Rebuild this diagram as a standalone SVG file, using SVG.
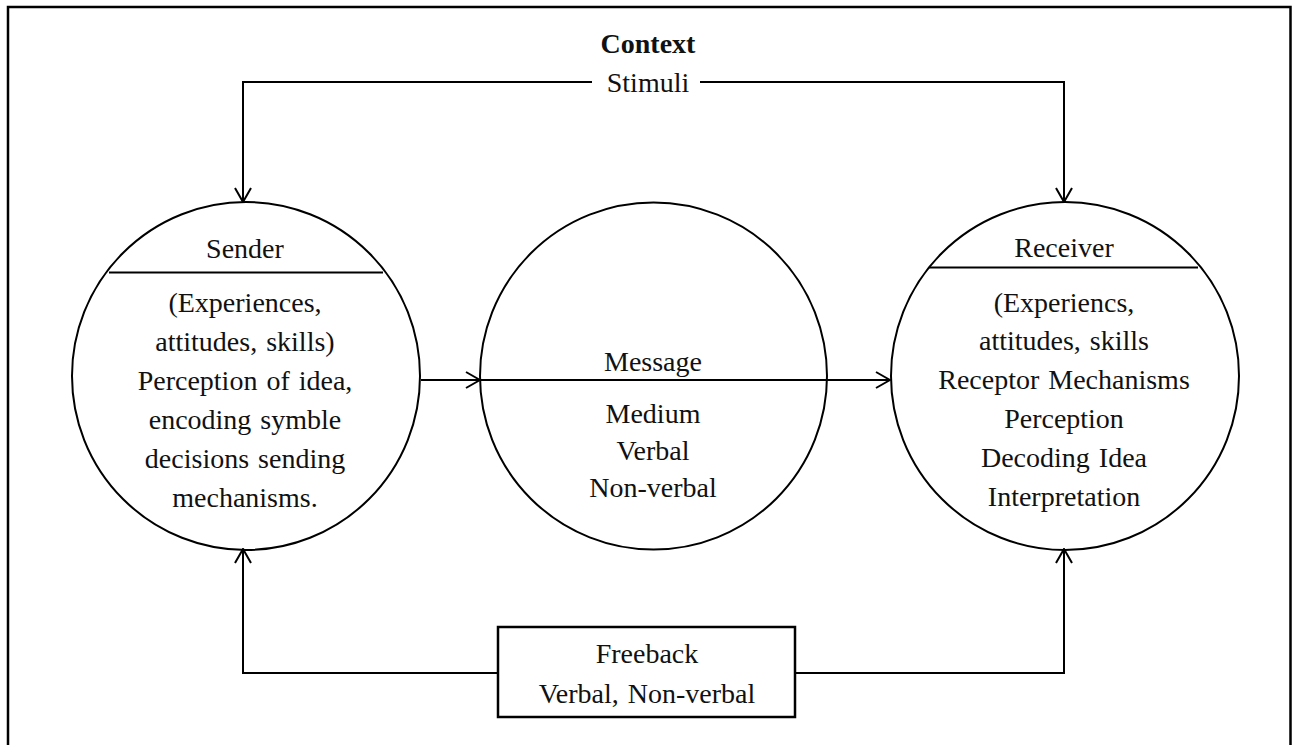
<svg xmlns="http://www.w3.org/2000/svg" width="1292" height="745" viewBox="0 0 1292 745">
<defs>
<marker id="arr" viewBox="0 0 16 18" refX="15" refY="9" markerWidth="16" markerHeight="18" markerUnits="userSpaceOnUse" orient="auto">
<path d="M1,1 L15,9 L1,17" fill="none" stroke="#000" stroke-width="2"/>
</marker>
<style>
.ln{fill:none;stroke:#000;stroke-width:2}
.t{font-family:"Liberation Serif","Times New Roman",serif;font-size:28px;fill:#111;text-anchor:middle;word-spacing:2px}
.b{font-weight:bold}
</style>
</defs>
<rect x="0" y="0" width="1292" height="745" fill="#fff"/>
<rect x="8" y="7" width="1282.5" height="760" fill="none" stroke="#000" stroke-width="2.5"/>
<text class="t b" x="648" y="53">Context</text>
<g id="connectors">
<polyline class="ln" points="592,82 243,82 243,202" marker-end="url(#arr)"/>
<polyline class="ln" points="700,82 1064,82 1064,202" marker-end="url(#arr)"/>
<line class="ln" x1="421" y1="380" x2="480" y2="380" marker-end="url(#arr)"/>
<line class="ln" x1="480" y1="380" x2="890" y2="380" marker-end="url(#arr)"/>
<polyline class="ln" points="498,673 243,673 243,549" marker-end="url(#arr)"/>
<polyline class="ln" points="795,673 1064,673 1064,549" marker-end="url(#arr)"/>
</g>
<g id="stimuli"><text class="t" x="648" y="92">Stimuli</text></g>
<g id="sender">
<circle class="ln" cx="246" cy="376" r="174"/>
<line class="ln" x1="109" y1="272.5" x2="383" y2="272.5"/>
<text class="t" x="245" y="258">Sender</text>
<text class="t" x="245" y="312">(Experiences,</text>
<text class="t" x="245" y="351">attitudes, skills)</text>
<text class="t" x="245" y="390">Perception of idea,</text>
<text class="t" x="245" y="429">encoding symble</text>
<text class="t" x="245" y="468">decisions sending</text>
<text class="t" x="245" y="507">mechanisms.</text>
</g>
<g id="message">
<circle class="ln" cx="653.5" cy="376" r="173.5"/>
<text class="t" x="653" y="371">Message</text>
<text class="t" x="653" y="423">Medium</text>
<text class="t" x="653" y="460">Verbal</text>
<text class="t" x="653" y="497">Non-verbal</text>
</g>
<g id="receiver">
<circle class="ln" cx="1065" cy="376" r="174"/>
<line class="ln" x1="929" y1="267.5" x2="1198" y2="267.5"/>
<text class="t" x="1064" y="257">Receiver</text>
<text class="t" x="1064" y="312">(Experiencs,</text>
<text class="t" x="1064" y="350">attitudes, skills</text>
<text class="t" x="1064" y="389">Receptor Mechanisms</text>
<text class="t" x="1064" y="428">Perception</text>
<text class="t" x="1064" y="467">Decoding Idea</text>
<text class="t" x="1064" y="506">Interpretation</text>
</g>
<g id="feedback">
<rect x="498" y="627" width="297" height="90" fill="#fff" stroke="#000" stroke-width="2.5"/>
<text class="t" x="647" y="663">Freeback</text>
<text class="t" x="647" y="703">Verbal, Non-verbal</text>
</g>
</svg>
